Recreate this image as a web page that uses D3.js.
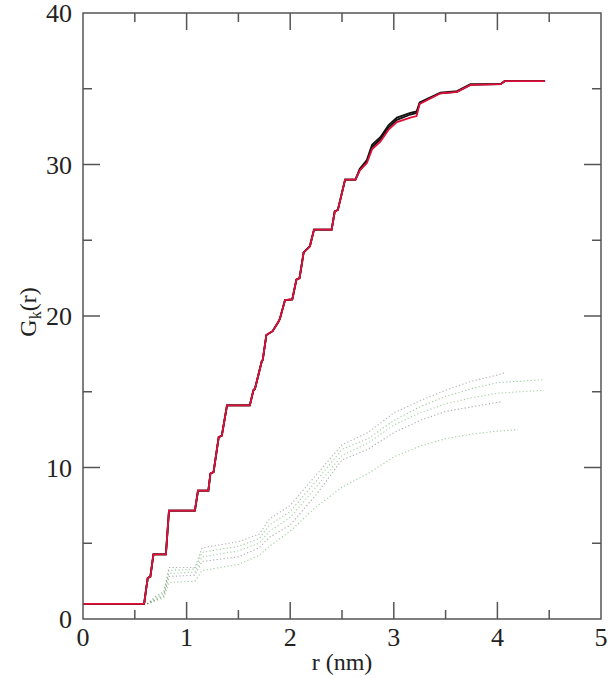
<!DOCTYPE html>
<html>
<head>
<meta charset="utf-8">
<script src="https://cdn.jsdelivr.net/npm/d3@7/dist/d3.min.js"></script>
<style>
  html, body { margin: 0; padding: 0; background: #fff; }
  svg { display: block; }
</style>
</head>
<body>
<svg id="chart" width="616" height="678"></svg>
<script>
// Cumulative coordination G_k(r) versus distance r (nm)

// Solid curves share one radius grid
const rMain = [0, 0.59, 0.61, 0.625, 0.65, 0.68, 0.80, 0.83, 1.08, 1.11, 1.21, 1.23, 1.26, 1.31, 1.34, 1.39,
  1.61, 1.645, 1.66, 1.725, 1.735, 1.77, 1.83, 1.885, 1.90, 1.95, 2.02, 2.06, 2.09, 2.13, 2.16, 2.19, 2.23,
  2.40, 2.43, 2.46, 2.53, 2.63, 2.67, 2.74, 2.79, 2.87, 2.95, 3.03, 3.16, 3.22, 3.25, 3.45, 3.61, 3.74,
  4.03, 4.07, 4.46];
const gRed = [1, 1, 2.0, 2.7, 2.8, 4.27, 4.27, 7.15, 7.15, 8.47, 8.47, 9.6, 9.7, 12.0, 12.1, 14.1,
  14.1, 15.1, 15.2, 17.0, 17.1, 18.75, 19.0, 19.6, 19.8, 21.05, 21.1, 22.4, 22.5, 24.2, 24.4, 24.6, 25.7,
  25.7, 26.9, 27.0, 29.0, 29.0, 29.6, 30.1, 31.0, 31.5, 32.3, 32.8, 33.1, 33.2, 34.0, 34.7, 34.8, 35.25,
  35.3, 35.5, 35.5];
const gBlackA = [1, 1, 2.0, 2.7, 2.8, 4.27, 4.27, 7.15, 7.15, 8.47, 8.47, 9.6, 9.7, 12.0, 12.1, 14.1,
  14.1, 15.1, 15.2, 17.0, 17.1, 18.75, 19.0, 19.6, 19.8, 21.05, 21.1, 22.4, 22.5, 24.2, 24.4, 24.6, 25.7,
  25.7, 26.9, 27.0, 29.0, 29.0, 29.7, 30.3, 31.3, 31.8, 32.6, 33.1, 33.4, 33.5, 34.1, 34.75, 34.85, 35.3,
  35.3, 35.5, 35.5];
const gBlackB = [1, 1, 2.0, 2.7, 2.8, 4.27, 4.27, 7.15, 7.15, 8.47, 8.47, 9.6, 9.7, 12.0, 12.1, 14.1,
  14.1, 15.1, 15.2, 17.0, 17.1, 18.75, 19.0, 19.6, 19.8, 21.05, 21.1, 22.4, 22.5, 24.2, 24.4, 24.6, 25.7,
  25.7, 26.9, 27.0, 29.0, 29.0, 29.6, 30.2, 31.15, 31.65, 32.45, 32.95, 33.3, 33.4, 34.05, 34.7, 34.8, 35.25,
  35.3, 35.5, 35.5];

// Dotted curves share a coarser radius grid
const rDot = [0.62, 0.70, 0.78, 0.83, 1.08, 1.15, 1.5, 1.7, 1.8, 2.0, 2.25, 2.5, 2.75, 3.0, 3.25, 3.5, 3.75, 4.0];
const gDot1 = [1, 1.5, 1.8, 3.4, 3.4, 4.7, 5.1, 5.6, 6.6, 7.5, 9.5, 11.5, 12.3, 13.6, 14.4, 15.1, 15.7, 16.1];
const gDot2 = [1, 1.4, 1.7, 3.2, 3.3, 4.4, 4.8, 5.3, 6.2, 7.1, 9.1, 11.2, 11.9, 13.1, 14.0, 14.7, 15.2, 15.6];
const gDot3 = [1, 1.3, 1.6, 3.0, 3.1, 4.1, 4.5, 5.0, 5.8, 6.7, 8.7, 10.8, 11.6, 12.8, 13.6, 14.2, 14.6, 14.9];
const gDot4 = [1, 1.25, 1.5, 2.8, 2.9, 3.8, 4.1, 4.7, 5.4, 6.2, 8.2, 10.5, 11.2, 12.3, 13.1, 13.7, 14.0, 14.3];
const gDot5 = [1, 1.2, 1.4, 2.4, 2.5, 3.2, 3.6, 4.2, 4.8, 5.8, 7.4, 8.7, 9.6, 10.7, 11.4, 11.9, 12.2, 12.4];
// end points of each dotted curve
const dotEndR = [4.07, 4.45, 4.45, 4.05, 4.2];
const dotEndG = [16.25, 15.8, 15.1, 14.35, 12.5];

const xTicks = [0, 1, 2, 3, 4, 5];
const yTicks = [0, 10, 20, 30, 40];
const xMinor = [0.5, 1.5, 2.5, 3.5, 4.5];
const yMinor = [5, 15, 25, 35];

const FONT = "Liberation Serif";
const svg = d3.select("#chart");
const plotL = 83, plotR = 601, plotT = 13, plotB = 619;
const x = d3.scaleLinear().domain([0, 5]).range([plotL, plotR]);
const y = d3.scaleLinear().domain([0, 40]).range([plotB, plotT]);

const line = d3.line().x(d => x(d[0])).y(d => y(d[1]));

// dotted curves
const dotSeries = [gDot1, gDot2, gDot3, gDot4, gDot5];
const dotColors = ["#666", "#3a9a3a", "#4aa84a", "#555", "#3fa03f"];
dotSeries.forEach((g, i) => {
  const pts = rDot.map((r, j) => [r, g[j]]);
  pts.push([dotEndR[i], dotEndG[i]]);
  svg.append("path")
    .attr("d", line(pts))
    .attr("fill", "none")
    .attr("stroke", dotColors[i])
    .attr("stroke-opacity", 0.5)
    .attr("stroke-width", 1.1)
    .attr("stroke-dasharray", "1.2,2.3");
});

// solid curves
[gBlackA, gBlackB].forEach(g => {
  svg.append("path")
    .attr("d", line(rMain.map((r, j) => [r, g[j]])))
    .attr("fill", "none")
    .attr("stroke", "#111")
    .attr("stroke-width", 1.8);
});
svg.append("path")
  .attr("d", line(rMain.map((r, j) => [r, gRed[j]])))
  .attr("fill", "none")
  .attr("stroke", "#e0103a")
  .attr("stroke-width", 1.8);

// frame
svg.append("rect")
  .attr("x", plotL).attr("y", plotT)
  .attr("width", plotR - plotL).attr("height", plotB - plotT)
  .attr("fill", "none").attr("stroke", "#555").attr("stroke-width", 1.5);

const major = 17, minor = 9;
const tickG = svg.append("g").attr("stroke", "#555").attr("stroke-width", 1.5);
xTicks.slice(1, -1).forEach(v => {
  tickG.append("line").attr("x1", x(v)).attr("x2", x(v)).attr("y1", plotB).attr("y2", plotB - major);
  tickG.append("line").attr("x1", x(v)).attr("x2", x(v)).attr("y1", plotT).attr("y2", plotT + major);
});
xMinor.forEach(v => {
  tickG.append("line").attr("x1", x(v)).attr("x2", x(v)).attr("y1", plotB).attr("y2", plotB - minor);
  tickG.append("line").attr("x1", x(v)).attr("x2", x(v)).attr("y1", plotT).attr("y2", plotT + minor);
});
yTicks.slice(1, -1).forEach(v => {
  tickG.append("line").attr("y1", y(v)).attr("y2", y(v)).attr("x1", plotL).attr("x2", plotL + major);
  tickG.append("line").attr("y1", y(v)).attr("y2", y(v)).attr("x1", plotR).attr("x2", plotR - major);
});
yMinor.forEach(v => {
  tickG.append("line").attr("y1", y(v)).attr("y2", y(v)).attr("x1", plotL).attr("x2", plotL + minor);
  tickG.append("line").attr("y1", y(v)).attr("y2", y(v)).attr("x1", plotR).attr("x2", plotR - minor);
});

// tick labels
svg.append("g").selectAll("text").data(xTicks).join("text")
  .attr("x", d => x(d)).attr("y", 646)
  .attr("text-anchor", "middle").attr("font-size", 26)
  .attr("font-family", FONT).attr("fill", "#222")
  .text(d => d);
svg.append("g").selectAll("text").data(yTicks).join("text")
  .attr("x", 72).attr("y", d => y(d) + 9)
  .attr("text-anchor", "end").attr("font-size", 26)
  .attr("font-family", FONT).attr("fill", "#222")
  .text(d => d);

// axis titles
svg.append("text")
  .attr("x", 342).attr("y", 670)
  .attr("text-anchor", "middle").attr("font-size", 24)
  .attr("font-family", FONT).attr("fill", "#222")
  .text("r (nm)");
const yt = svg.append("text")
  .attr("transform", "translate(36,312) rotate(-90)")
  .attr("text-anchor", "middle").attr("font-size", 24)
  .attr("font-family", FONT).attr("fill", "#222");
yt.append("tspan").text("G");
yt.append("tspan").attr("font-size", 16).attr("dy", 5).text("k");
yt.append("tspan").attr("dy", -5).text("(r)");
</script>
</body>
</html>
